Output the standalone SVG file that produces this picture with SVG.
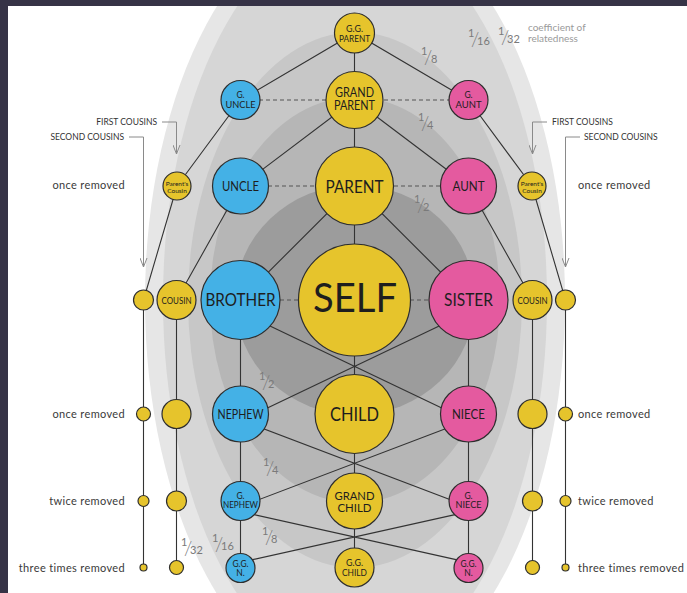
<svg xmlns="http://www.w3.org/2000/svg" width="687" height="593" viewBox="0 0 687 593">
<style>
.n{stroke:#2e2e2e;stroke-width:1.2}
.y{fill:#e6c42c}.b{fill:#44b1e6}.p{fill:#e45a9f}
.t{font-family:Lato,"Noto Sans",sans-serif;fill:#1e1e1e;text-anchor:middle}
.ln{stroke:#333;stroke-width:1.1;fill:none}
.ds{stroke:#555;stroke-width:1.2;stroke-dasharray:4 3;fill:none}
.ar{stroke:#8a8a8a;stroke-width:1;fill:none}
.lab{font-family:Lato,"Noto Sans",sans-serif;fill:#3a3a3a;font-size:11px;letter-spacing:0.35px}
.cap{font-family:Lato,"Noto Sans",sans-serif;fill:#333;font-size:8.5px}
.fr{font-family:Lato,"Noto Sans",sans-serif;fill:#7a7a7a}
.fr .a{font-size:11px}.fr .s{font-size:19px;font-weight:300}
</style>
<defs>
<marker id="chev" viewBox="0 0 10 8" refX="9.5" refY="4" markerWidth="10" markerHeight="8" markerUnits="userSpaceOnUse" orient="auto">
<path d="M0,0.3 L9.5,4 L0,7.7" fill="none" stroke="#8a8a8a" stroke-width="1"/>
</marker>
</defs>
<rect width="687" height="593" fill="#fff"/>
<g id="bands">
<ellipse cx="355" cy="300" rx="210" ry="390" fill="#e6e6e6"/>
<ellipse cx="355" cy="300" rx="192" ry="372" fill="#d6d6d6"/>
<ellipse cx="355" cy="300" rx="167" ry="268" fill="#c7c7c7"/>
<ellipse cx="355" cy="300" rx="145" ry="203" fill="#b6b6b6"/>
<ellipse cx="355" cy="300" rx="120" ry="115" fill="#9c9c9c"/>
</g>
<rect x="0" y="0" width="687" height="6" fill="#363346"/>
<rect x="0" y="0" width="8" height="593" fill="#363346"/>
<g id="connectors">
<path class="ln" d="M354.5,33V567.5 M240.5,300V568 M468.5,300V568 M176.5,300V567.5 M143.5,300V567.5 M532.5,300V567.5 M565.5,300V567.5"/>
<path class="ln" d="M240.5,100L354.5,33L468.5,100 M240.5,186L354.5,100L468.5,186 M240.5,300L354.5,186L468.5,300"/>
<path class="ln" d="M177,186L240.5,100 M532,186L468.5,100 M176.5,300L240.5,186 M532.5,300L468.5,186 M143.5,300L177,186 M565.5,300L532,186"/>
<path class="ln" d="M240.5,312L469,421 M468.5,312L240,421 M240.5,420L469.5,507 M468.5,420L239.5,507 M240.5,511.6L469.5,562.6 M468.5,511.6L239.5,562.6"/>
<path class="ds" d="M259,100H327 M384,100H449 M268,186H316 M394,186H441 M280,300H299 M410,300H429"/>
<path class="ar" d="M162,122H176.5V154" marker-end="url(#chev)"/>
<path class="ar" d="M129,137H143.5V267" marker-end="url(#chev)"/>
<path class="ar" d="M547,122H532.5V154" marker-end="url(#chev)"/>
<path class="ar" d="M580,137H565.5V267" marker-end="url(#chev)"/>
</g>
<g id="ggparent"><circle class="n y" cx="354.5" cy="33" r="20"/><text class="t" font-size="8.5" x="354.5" y="32" textLength="17" lengthAdjust="spacingAndGlyphs">G.G.</text><text class="t" font-size="9" x="354.5" y="41.5" textLength="31" lengthAdjust="spacingAndGlyphs">PARENT</text></g>
<g id="grandparent"><circle class="n y" cx="354.5" cy="100" r="28.5"/><text class="t" font-size="13" x="354.5" y="97" textLength="39" lengthAdjust="spacingAndGlyphs">GRAND</text><text class="t" font-size="13" x="354.5" y="110" textLength="41" lengthAdjust="spacingAndGlyphs">PARENT</text></g>
<g id="guncle"><circle class="n b" cx="240.5" cy="100" r="19.5"/><text class="t" font-size="8.5" x="240.5" y="97.5">G.</text><text class="t" font-size="8.5" x="240.5" y="107.5" textLength="30" lengthAdjust="spacingAndGlyphs">UNCLE</text></g>
<g id="gaunt"><circle class="n p" cx="468.5" cy="100" r="19.5"/><text class="t" font-size="8.5" x="468.5" y="97.5">G.</text><text class="t" font-size="8.5" x="468.5" y="107.5" textLength="26" lengthAdjust="spacingAndGlyphs">AUNT</text></g>
<g id="parent"><circle class="n y" cx="354.5" cy="186" r="39"/><text class="t" font-size="18" x="354.5" y="192.5" textLength="58" lengthAdjust="spacingAndGlyphs">PARENT</text></g>
<g id="uncle"><circle class="n b" cx="240.5" cy="186" r="28"/><text class="t" font-size="12.5" x="240.5" y="190.5" textLength="37" lengthAdjust="spacingAndGlyphs">UNCLE</text></g>
<g id="aunt"><circle class="n p" cx="468.5" cy="186" r="28"/><text class="t" font-size="12.5" x="468.5" y="190.5" textLength="32" lengthAdjust="spacingAndGlyphs">AUNT</text></g>
<g id="pcousinL"><circle class="n y" cx="177" cy="186" r="14"/><text class="t" font-size="6.5" x="177" y="186">Parent's</text><text class="t" font-size="6.5" x="177" y="193">Cousin</text></g>
<g id="pcousinR"><circle class="n y" cx="532" cy="186" r="14"/><text class="t" font-size="6.5" x="532" y="186">Parent's</text><text class="t" font-size="6.5" x="532" y="193">Cousin</text></g>
<g id="self"><circle class="n y" cx="354.5" cy="300" r="56"/><text class="t" font-size="40" x="355" y="312" textLength="84" lengthAdjust="spacingAndGlyphs">SELF</text></g>
<g id="brother"><circle class="n b" cx="240.5" cy="300" r="39.5"/><text class="t" font-size="17.5" x="240.5" y="306" textLength="70" lengthAdjust="spacingAndGlyphs">BROTHER</text></g>
<g id="sister"><circle class="n p" cx="468.5" cy="300" r="39.5"/><text class="t" font-size="17.5" x="468.5" y="306" textLength="49" lengthAdjust="spacingAndGlyphs">SISTER</text></g>
<g id="cousinL"><circle class="n y" cx="176.5" cy="300" r="19.5"/><text class="t" font-size="9.5" x="176.5" y="304" textLength="30" lengthAdjust="spacingAndGlyphs">COUSIN</text></g>
<g id="cousinR"><circle class="n y" cx="532.5" cy="300" r="19.5"/><text class="t" font-size="9.5" x="532.5" y="304" textLength="30" lengthAdjust="spacingAndGlyphs">COUSIN</text></g>
<g id="cousin2L"><circle class="n y" cx="143.5" cy="300" r="10"/></g>
<g id="cousin2R"><circle class="n y" cx="565.5" cy="300" r="10"/></g>
<g id="child"><circle class="n y" cx="354.5" cy="414" r="39.5"/><text class="t" font-size="19" x="354.5" y="420.5" textLength="49" lengthAdjust="spacingAndGlyphs">CHILD</text></g>
<g id="nephew"><circle class="n b" cx="240.5" cy="414" r="28"/><text class="t" font-size="12.5" x="240.5" y="419" textLength="46" lengthAdjust="spacingAndGlyphs">NEPHEW</text></g>
<g id="niece"><circle class="n p" cx="468.5" cy="414" r="28"/><text class="t" font-size="12.5" x="468.5" y="419" textLength="33" lengthAdjust="spacingAndGlyphs">NIECE</text></g>
<g id="c1L"><circle class="n y" cx="176.5" cy="414" r="14.5"/></g>
<g id="c2L1"><circle class="n y" cx="143.5" cy="414" r="7"/></g>
<g id="c1R"><circle class="n y" cx="532.5" cy="414" r="14.5"/></g>
<g id="c2R1"><circle class="n y" cx="565.5" cy="414" r="7"/></g>
<g id="grandchild"><circle class="n y" cx="354.5" cy="501" r="28"/><text class="t" font-size="11" x="354.5" y="499.5" textLength="40" lengthAdjust="spacingAndGlyphs">GRAND</text><text class="t" font-size="11" x="354.5" y="512" textLength="34" lengthAdjust="spacingAndGlyphs">CHILD</text></g>
<g id="gnephew"><circle class="n b" cx="240.5" cy="501" r="19.5"/><text class="t" font-size="8.5" x="240.5" y="498.5">G.</text><text class="t" font-size="8.5" x="240.5" y="508" textLength="35" lengthAdjust="spacingAndGlyphs">NEPHEW</text></g>
<g id="gniece"><circle class="n p" cx="468.5" cy="501" r="19.5"/><text class="t" font-size="8.5" x="468.5" y="498.5">G.</text><text class="t" font-size="8.5" x="468.5" y="508" textLength="26" lengthAdjust="spacingAndGlyphs">NIECE</text></g>
<g id="c1L2"><circle class="n y" cx="176.5" cy="501" r="10"/></g>
<g id="c2L2"><circle class="n y" cx="143.5" cy="501" r="5.5"/></g>
<g id="c1R2"><circle class="n y" cx="532.5" cy="501" r="10"/></g>
<g id="c2R2"><circle class="n y" cx="565.5" cy="501" r="5.5"/></g>
<g id="ggchild"><circle class="n y" cx="354.5" cy="567.5" r="19.5"/><text class="t" font-size="8.5" x="354.5" y="565.5" textLength="17" lengthAdjust="spacingAndGlyphs">G.G.</text><text class="t" font-size="8.5" x="354.5" y="575.5" textLength="25" lengthAdjust="spacingAndGlyphs">CHILD</text></g>
<g id="ggnL"><circle class="n b" cx="240.5" cy="568" r="14.5"/><text class="t" font-size="8.5" x="240.5" y="567" textLength="16" lengthAdjust="spacingAndGlyphs">G.G.</text><text class="t" font-size="8.5" x="240.5" y="576">N.</text></g>
<g id="ggnR"><circle class="n p" cx="468.5" cy="568" r="14.5"/><text class="t" font-size="8.5" x="468.5" y="567" textLength="16" lengthAdjust="spacingAndGlyphs">G.G.</text><text class="t" font-size="8.5" x="468.5" y="576">N.</text></g>
<g id="c1L3"><circle class="n y" cx="176.5" cy="567.5" r="7"/></g>
<g id="c2L3"><circle class="n y" cx="143.5" cy="567.5" r="3.5"/></g>
<g id="c1R3"><circle class="n y" cx="532.5" cy="567.5" r="7"/></g>
<g id="c2R3"><circle class="n y" cx="565.5" cy="567.5" r="3.5"/></g>
<g id="labels">
<text class="cap" x="157" y="125" text-anchor="end">FIRST COUSINS</text>
<text class="cap" x="124" y="140" text-anchor="end">SECOND COUSINS</text>
<text class="cap" x="552" y="125">FIRST COUSINS</text>
<text class="cap" x="584" y="140">SECOND COUSINS</text>
<text class="lab" x="125" y="189" text-anchor="end">once removed</text>
<text class="lab" x="578" y="189">once removed</text>
<text class="lab" x="125" y="418" text-anchor="end">once removed</text>
<text class="lab" x="578" y="418">once removed</text>
<text class="lab" x="125" y="505" text-anchor="end">twice removed</text>
<text class="lab" x="578" y="505">twice removed</text>
<text class="lab" x="125" y="572" text-anchor="end">three times removed</text>
<text class="lab" x="578" y="572">three times removed</text>
<text font-family="Lato,'Noto Sans',sans-serif" font-size="10" fill="#9a9a9a" x="528" y="31">coefficient of</text>
<text font-family="Lato,'Noto Sans',sans-serif" font-size="10" fill="#9a9a9a" x="528" y="41.5">relatedness</text>
</g>
<g id="fractions">
<text class="fr"><tspan class="a" x="421" y="55">1</tspan><tspan class="s" x="424" y="64">/</tspan><tspan class="a" x="431" y="63">8</tspan></text>
<text class="fr"><tspan class="a" x="468" y="37">1</tspan><tspan class="s" x="471" y="46">/</tspan><tspan class="a" x="477" y="45">16</tspan></text>
<text class="fr"><tspan class="a" x="498" y="35">1</tspan><tspan class="s" x="501" y="44">/</tspan><tspan class="a" x="507" y="43">32</tspan></text>
<text class="fr"><tspan class="a" x="418" y="121">1</tspan><tspan class="s" x="421" y="130">/</tspan><tspan class="a" x="427" y="129">4</tspan></text>
<text class="fr"><tspan class="a" x="414" y="203">1</tspan><tspan class="s" x="417" y="212">/</tspan><tspan class="a" x="423" y="211">2</tspan></text>
<text class="fr"><tspan class="a" x="259" y="380">1</tspan><tspan class="s" x="262" y="389">/</tspan><tspan class="a" x="268" y="388">2</tspan></text>
<text class="fr"><tspan class="a" x="263" y="466">1</tspan><tspan class="s" x="266" y="475">/</tspan><tspan class="a" x="272" y="474">4</tspan></text>
<text class="fr"><tspan class="a" x="262" y="535">1</tspan><tspan class="s" x="265" y="544">/</tspan><tspan class="a" x="271" y="543">8</tspan></text>
<text class="fr"><tspan class="a" x="212" y="542">1</tspan><tspan class="s" x="215" y="551">/</tspan><tspan class="a" x="221" y="550">16</tspan></text>
<text class="fr"><tspan class="a" x="181" y="546">1</tspan><tspan class="s" x="184" y="555">/</tspan><tspan class="a" x="190" y="554">32</tspan></text>
</g>
</svg>
